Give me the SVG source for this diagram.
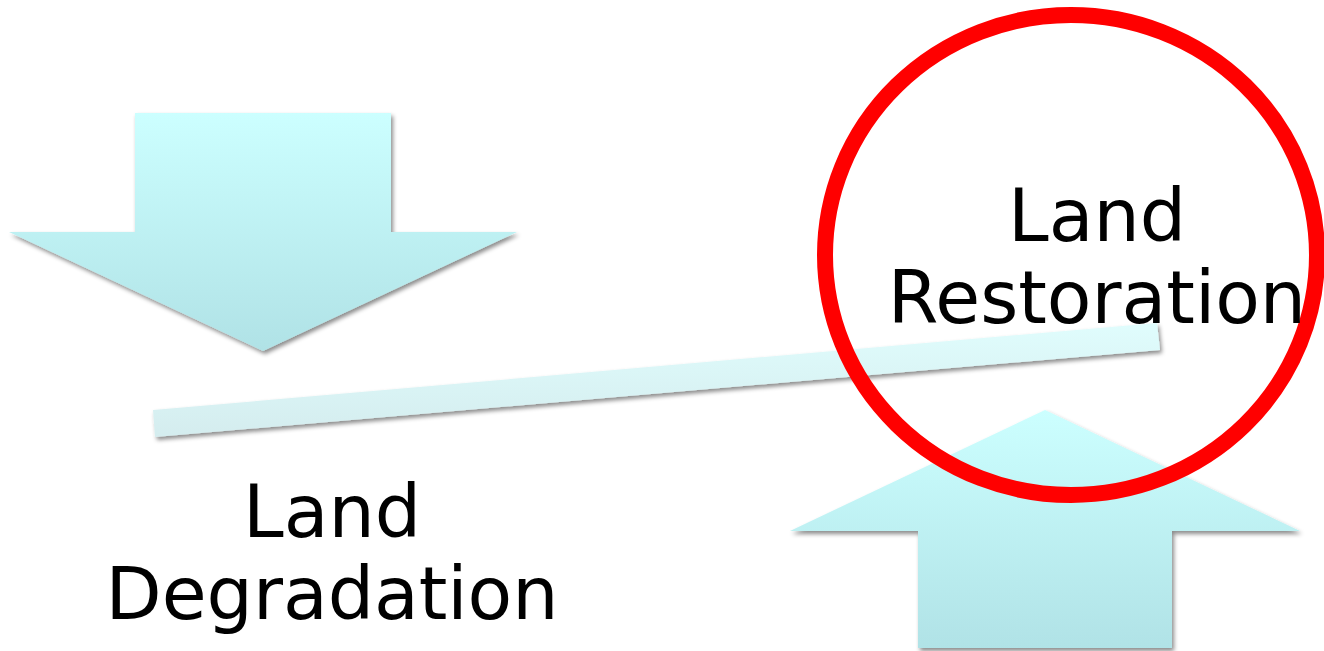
<svg xmlns="http://www.w3.org/2000/svg" width="1324" height="651" viewBox="0 0 1324 651">
  <defs>
    <linearGradient id="gDown" x1="0" y1="113" x2="0" y2="351" gradientUnits="userSpaceOnUse">
      <stop offset="0" stop-color="#ccffff"/>
      <stop offset="1" stop-color="#b0e2e6"/>
    </linearGradient>
    <linearGradient id="gUp" x1="0" y1="410" x2="0" y2="651" gradientUnits="userSpaceOnUse">
      <stop offset="0" stop-color="#ccffff"/>
      <stop offset="1" stop-color="#b0e2e6"/>
    </linearGradient>
    <linearGradient id="gBar" x1="0" y1="322" x2="0" y2="440" gradientUnits="userSpaceOnUse">
      <stop offset="0" stop-color="#e0fdfd"/>
      <stop offset="1" stop-color="#d4ecee"/>
    </linearGradient>
    <filter id="shadow" x="-10%" y="-10%" width="120%" height="130%">
      <feDropShadow dx="2" dy="3" stdDeviation="2" flood-color="#000" flood-opacity="0.45"/>
    </filter>
  </defs>
  <style>
    .lbl { font-family: "DejaVu Sans", Verdana, sans-serif; font-size: 73px; fill: #000; text-anchor: middle; }
  </style>
  <rect width="1324" height="651" fill="#ffffff"/>

  <g id="arrow-down">
    <polygon points="135,113 391,113 391,232 517,232 263,351 9,232 135,232" fill="url(#gDown)" filter="url(#shadow)"/>
  </g>

  <g id="connectors">
    <polygon id="balance-bar" points="153,410 1157,323 1160,350 155,437" fill="url(#gBar)" filter="url(#shadow)"/>
  </g>

  <g id="arrow-up">
    <polygon points="1045,410 1300,531 1172,531 1172,648 918,648 918,531 790,531" fill="url(#gUp)" filter="url(#shadow)"/>
  </g>

  <g id="restoration">
    <ellipse cx="1071" cy="255" rx="246" ry="240" fill="none" stroke="#ff0000" stroke-width="16"/>
    <text class="lbl" x="1097" y="241">Land</text>
    <text class="lbl" x="1097" y="323">Restoration</text>
  </g>

  <g id="degradation">
    <text class="lbl" x="332" y="537">Land</text>
    <text class="lbl" x="332" y="619">Degradation</text>
  </g>
</svg>
